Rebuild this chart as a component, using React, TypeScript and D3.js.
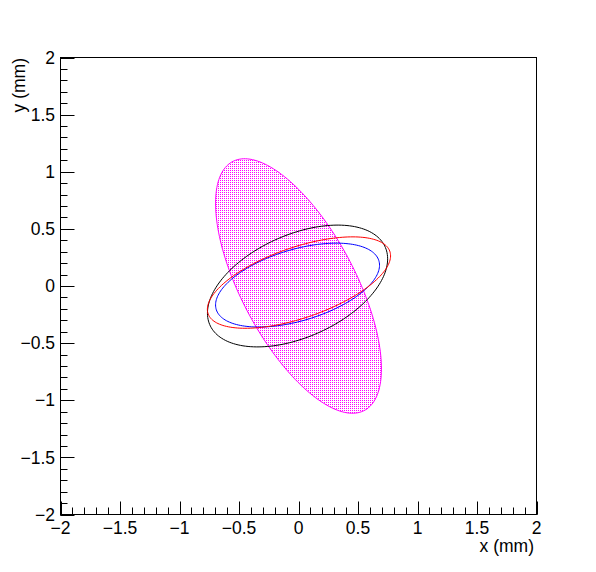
import React from "react";
import * as d3 from "d3";

// axis ticks
const majorTicks = [-2, -1.5, -1, -0.5, 0, 0.5, 1, 1.5, 2];
const xDomain = [-2, 2];
const yDomain = [-2, 2];

// ellipses (mm): centre, semi-axes, rotation in degrees
const ellipseNames = ["beam", "black", "blue", "red"];
const ellipseCx = [0, -0.008, -0.008, 0.004];
const ellipseCy = [0, 0, 0.008, 0.03];
const ellipseA = [1.222, 0.812, 0.716, 0.811];
const ellipseB = [0.483, 0.445, 0.311, 0.308];
const ellipseAngle = [116.6, 25.6, 17.6, 19.9];
const ellipseColors = ["#ff00ff", "#000000", "#0000ff", "#ff0000"];

const W = 596;
const H = 572;
const left = 60.5, right = 536.5, top = 57.5, bottom = 514.5;
const font = "'Liberation Sans', Arial, Helvetica, sans-serif";
const fs = 17.5;

export default function App() {
  const x = d3.scaleLinear().domain(xDomain).range([left, right]);
  const y = d3.scaleLinear().domain(yDomain).range([bottom, top]);
  const minorTicks = x.ticks(40);
  const fmt = d3.format("");

  const line = d3.line<[number, number]>()
    .x(d => x(d[0]))
    .y(d => y(d[1]))
    .curve(d3.curveLinearClosed);

  const ellipsePath = (i: number) => {
    const th = ellipseAngle[i] * Math.PI / 180;
    const pts: [number, number][] = d3.range(0, 360, 2).map(deg => {
      const t = deg * Math.PI / 180;
      const u = ellipseA[i] * Math.cos(t);
      const v = ellipseB[i] * Math.sin(t);
      return [
        ellipseCx[i] + u * Math.cos(th) - v * Math.sin(th),
        ellipseCy[i] + u * Math.sin(th) + v * Math.cos(th),
      ];
    });
    return line(pts);
  };

  return (
    <svg width={W} height={H} style={{ position: "absolute", left: 0, top: 0, background: "#fff" }}
      fontFamily={font}>
      <defs>
        <pattern id="dots" x={0} y={0} width={2} height={2} patternUnits="userSpaceOnUse">
          <rect x={0} y={0} width={1} height={1} fill="#ff00ff" shapeRendering="crispEdges" />
        </pattern>
      </defs>
      <rect width={W} height={H} fill="#fff" />

      {ellipseNames.map((name, i) => (
        <path key={name} d={ellipsePath(i) || ""}
          fill={i === 0 ? "url(#dots)" : "none"}
          stroke={ellipseColors[i]} strokeWidth={1} />
      ))}

      {/* frame */}
      <rect x={left} y={top} width={right - left} height={bottom - top}
        fill="none" stroke="#000" strokeWidth={1} />

      {/* x axis ticks */}
      {minorTicks.map(t => (
        <line key={`xm${t}`} x1={Math.round(x(t)) + 0.5} x2={Math.round(x(t)) + 0.5}
          y1={bottom} y2={bottom - 7} stroke="#000" />
      ))}
      {majorTicks.map(t => (
        <line key={`xM${t}`} x1={Math.round(x(t)) + 0.5} x2={Math.round(x(t)) + 0.5}
          y1={bottom} y2={bottom - 13} stroke="#000" />
      ))}
      {majorTicks.map(t => (
        <text key={`xl${t}`} x={x(t)} y={534} textAnchor="middle" fontSize={fs}>{fmt(t)}</text>
      ))}

      {/* y axis ticks */}
      {minorTicks.map(t => (
        <line key={`ym${t}`} y1={Math.round(y(t)) + 0.5} y2={Math.round(y(t)) + 0.5}
          x1={left} x2={left + 7} stroke="#000" />
      ))}
      {majorTicks.map(t => (
        <line key={`yM${t}`} y1={Math.round(y(t)) + 0.5} y2={Math.round(y(t)) + 0.5}
          x1={left} x2={left + 14} stroke="#000" />
      ))}
      {majorTicks.map(t => (
        <text key={`yl${t}`} x={55} y={y(t)} dy="0.35em" textAnchor="end" fontSize={fs}>{fmt(t)}</text>
      ))}

      <text x={534} y={552} textAnchor="end" fontSize={fs}>x (mm)</text>
      <text transform="translate(25,58) rotate(-90)" textAnchor="end" fontSize={fs}>y (mm)</text>
    </svg>
  );
}
